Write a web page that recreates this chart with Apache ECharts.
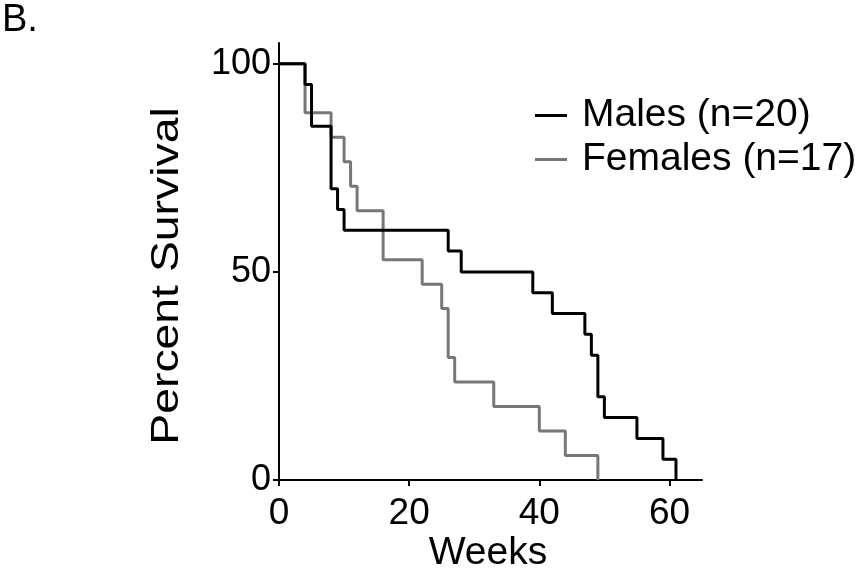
<!DOCTYPE html>
<html>
<head>
<meta charset="utf-8">
<script src="https://cdn.jsdelivr.net/npm/echarts@6/dist/echarts.min.js"></script>
<style>
html,body{margin:0;padding:0;background:#fff;}
#chart{width:859px;height:575px;}
</style>
</head>
<body>
<div id="chart"></div>
<script>
// Kaplan-Meier data
var maleWeeks    = [0, 4, 5, 8, 9, 10, 26, 28, 39, 42, 47, 48, 49, 50, 55, 59, 61];
var maleSurvival = [100, 95, 85, 70, 65, 60, 55, 50, 45, 40, 35, 30, 20, 15, 10, 5, 0];
var femaleWeeks    = [0, 4, 8, 10, 11, 12, 16, 22, 25, 26, 27, 33, 40, 44, 49];
var femaleSurvival = [100, 88.24, 82.35, 76.47, 70.59, 64.71, 52.94, 47.06, 41.18, 29.41, 23.53, 17.65, 11.76, 5.88, 0];
var seriesNames = ['Males (n=20)', 'Females (n=17)'];
var xTitle = 'Weeks';
var yTitle = 'Percent Survival';
var panelLabel = 'B.';

function pairs(xs, ys){ return xs.map(function(x,i){ return [x, ys[i]]; }); }

var FONT = '"Liberation Sans", Arial, Helvetica, sans-serif';
var chart = echarts.init(document.getElementById('chart'), null, {renderer:'canvas'});
chart.setOption({
  backgroundColor: '#fff',
  animation: false,
  grid: {left: 279, right: 157, top: 43, bottom: 95, containLabel: false},
  legend: {
    orient: 'vertical',
    left: 530, top: 91,
    itemWidth: 32, itemHeight: 3,
    itemGap: 5,
    icon: 'rect',
    data: seriesNames,
    textStyle: {fontFamily: FONT, fontSize: 39, color: '#000', padding: [0,0,0,10]}
  },
  xAxis: {
    type: 'value', min: 0, max: 65, interval: 20,
    axisLine: {show: true, onZero: false, lineStyle: {color: '#000', width: 2}},
    axisTick: {show: true, length: 6, lineStyle: {color: '#000', width: 2}},
    axisLabel: {fontFamily: FONT, fontSize: 37, color: '#000', margin: 15, showMaxLabel: false},
    splitLine: {show: false}
  },
  yAxis: {
    type: 'value', min: 0, max: 105, interval: 50,
    axisLine: {show: true, onZero: false, lineStyle: {color: '#000', width: 2}},
    axisTick: {show: true, length: 6, lineStyle: {color: '#000', width: 2}},
    axisLabel: {fontFamily: FONT, fontSize: 36, color: '#000', margin: 8, showMaxLabel: false},
    splitLine: {show: false}
  },
  series: [
    {
      name: seriesNames[0], type: 'line', step: 'end', showSymbol: false, z: 3,
      data: pairs(maleWeeks, maleSurvival),
      itemStyle: {color: '#000'},
      lineStyle: {color: '#000', width: 3}
    },
    {
      name: seriesNames[1], type: 'line', step: 'end', showSymbol: false, z: 2,
      data: pairs(femaleWeeks, femaleSurvival),
      itemStyle: {color: '#777'},
      lineStyle: {color: '#777', width: 3}
    }
  ],
  graphic: [
    {type: 'text', left: 2, top: 2, style: {text: panelLabel, font: '38px ' + FONT, fill: '#000'}},
    {type: 'text', x: 488, y: 553, style: {text: xTitle, font: '39px ' + FONT, fill: '#000', align: 'center', verticalAlign: 'middle'}},
    {type: 'text', x: 168, y: 276, rotation: Math.PI/2, scaleX: 1.22,
     style: {text: yTitle, font: '38px ' + FONT, fill: '#000', align: 'center', verticalAlign: 'middle'}}
  ]
});
</script>
</body>
</html>
